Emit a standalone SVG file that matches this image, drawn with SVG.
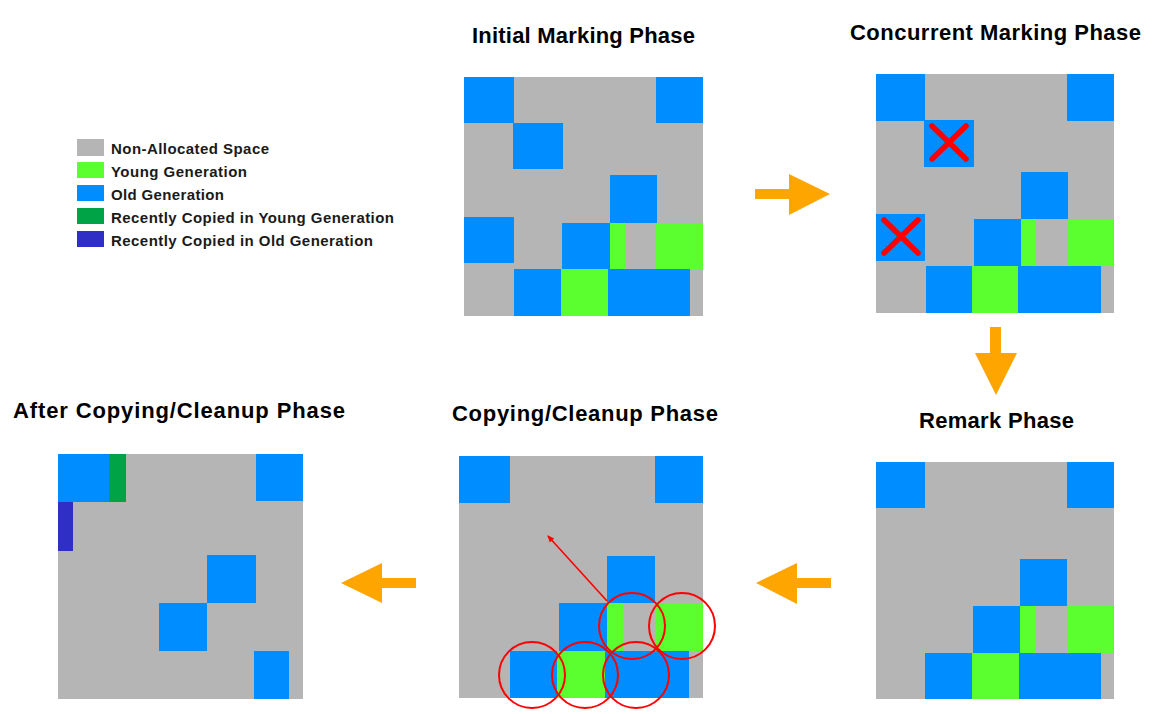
<svg xmlns="http://www.w3.org/2000/svg" width="1168" height="714" viewBox="0 0 1168 714">
<defs>
<style>
.bg{fill:#B5B5B5}
.o{fill:#008DFF}
.y{fill:#5BFF2F}
.dg{fill:#00A447}
.pu{fill:#2F2FC6}
.x{stroke:#FF0000;stroke-width:5.5;stroke-linecap:round;fill:none}
.c{stroke:#FF0000;stroke-width:2;fill:none}
.t{font-family:"Liberation Sans",Arial,sans-serif;font-weight:bold;font-size:22px;fill:#000}
.lg{font-family:"Liberation Sans",Arial,sans-serif;font-weight:bold;font-size:15px;fill:#1a1a1a}
.arr{fill:#FFA500}
</style>
<marker id="rh" markerWidth="8" markerHeight="8" refX="6" refY="4" orient="auto" markerUnits="userSpaceOnUse">
<path d="M0,1 L7,4 L0,7 Z" fill="#FF0000"/>
</marker>
</defs>
<rect width="1168" height="714" fill="#FFFFFF"/>

<g id="legend">
<rect class="bg" x="77" y="139" width="27" height="17"/>
<rect class="y" x="77" y="162" width="27" height="16"/>
<rect class="o" x="77" y="185" width="27" height="16"/>
<rect class="dg" x="77" y="208" width="27" height="16"/>
<rect class="pu" x="77" y="231" width="27" height="16"/>
<text class="lg" x="111" y="154" textLength="158">Non-Allocated Space</text>
<text class="lg" x="111" y="177" textLength="136">Young Generation</text>
<text class="lg" x="111" y="200" textLength="113">Old Generation</text>
<text class="lg" x="111" y="223" textLength="283">Recently Copied in Young Generation</text>
<text class="lg" x="111" y="246" textLength="262">Recently Copied in Old Generation</text>
</g>

<g id="initial-marking">
<text class="t" x="472" y="43" textLength="223">Initial Marking Phase</text>
<rect class="bg" x="464" y="77" width="239" height="239"/>
<rect class="o" x="464" y="77" width="50" height="46"/>
<rect class="o" x="656" y="77" width="47" height="46"/>
<rect class="o" x="513" y="123" width="50" height="46"/>
<rect class="o" x="610" y="175" width="47" height="48"/>
<rect class="o" x="464" y="217" width="50" height="46"/>
<rect class="o" x="562" y="223" width="48" height="46"/>
<rect class="y" x="610" y="223" width="15" height="46"/>
<rect class="y" x="656" y="223" width="47" height="46"/>
<rect class="o" x="514" y="269" width="47" height="47"/>
<rect class="y" x="561" y="269" width="47" height="47"/>
<rect class="o" x="608" y="269" width="82" height="47"/>
</g>

<g id="concurrent-marking">
<text class="t" x="850" y="40" textLength="291">Concurrent Marking Phase</text>
<rect class="bg" x="876" y="74" width="238" height="239"/>
<rect class="o" x="876" y="74" width="49" height="47"/>
<rect class="o" x="1067" y="74" width="47" height="47"/>
<rect class="o" x="924" y="120" width="50" height="47"/>
<rect class="o" x="1021" y="172" width="47" height="47"/>
<rect class="o" x="876" y="214" width="49" height="47"/>
<rect class="o" x="974" y="219" width="47" height="47"/>
<rect class="y" x="1021" y="219" width="15" height="47"/>
<rect class="y" x="1068" y="219" width="46" height="47"/>
<rect class="o" x="926" y="266" width="46" height="47"/>
<rect class="y" x="972" y="266" width="46" height="47"/>
<rect class="o" x="1018" y="266" width="83" height="47"/>
<path class="x" d="M932,126 L966,159 M966,126 L932,159"/>
<path class="x" d="M884,220 L918,253 M918,220 L884,253"/>
</g>

<g id="remark">
<text class="t" x="919" y="428" textLength="155">Remark Phase</text>
<rect class="bg" x="876" y="462" width="238" height="237"/>
<rect class="o" x="876" y="462" width="49" height="46"/>
<rect class="o" x="1067" y="462" width="47" height="46"/>
<rect class="o" x="1020" y="559" width="47" height="47"/>
<rect class="o" x="973" y="606" width="47" height="47"/>
<rect class="y" x="1020" y="606" width="16" height="47"/>
<rect class="y" x="1067" y="606" width="47" height="47"/>
<rect class="o" x="925" y="653" width="47" height="46"/>
<rect class="y" x="972" y="653" width="47" height="46"/>
<rect class="o" x="1019" y="653" width="82" height="46"/>
</g>

<g id="copying-cleanup">
<text class="t" x="452" y="421" textLength="266">Copying/Cleanup Phase</text>
<rect class="bg" x="459" y="456" width="244" height="242"/>
<rect class="o" x="459" y="456" width="51" height="47"/>
<rect class="o" x="655" y="456" width="48" height="47"/>
<rect class="o" x="607" y="556" width="48" height="47"/>
<rect class="o" x="559" y="603" width="48" height="48"/>
<rect class="y" x="607" y="603" width="16" height="48"/>
<rect class="y" x="655" y="603" width="48" height="48"/>
<rect class="o" x="510" y="651" width="47" height="47"/>
<rect class="y" x="557" y="651" width="48" height="47"/>
<rect class="o" x="605" y="651" width="84" height="47"/>
<line x1="607" y1="601" x2="548" y2="536" stroke="#FF0000" stroke-width="1.6" marker-end="url(#rh)"/>
<circle class="c" cx="632" cy="626" r="33"/>
<circle class="c" cx="682" cy="626" r="33"/>
<circle class="c" cx="532" cy="675" r="33"/>
<circle class="c" cx="585" cy="675" r="33"/>
<circle class="c" cx="636" cy="675" r="33"/>
</g>

<g id="after-copying">
<text class="t" x="13" y="418" textLength="332">After Copying/Cleanup Phase</text>
<rect class="bg" x="58" y="454" width="245" height="245"/>
<rect class="o" x="58" y="454" width="51" height="48"/>
<rect class="dg" x="109" y="454" width="17" height="48"/>
<rect class="o" x="256" y="454" width="47" height="47"/>
<rect class="pu" x="58" y="502" width="15" height="49"/>
<rect class="o" x="207" y="555" width="49" height="48"/>
<rect class="o" x="159" y="603" width="48" height="48"/>
<rect class="o" x="254" y="651" width="35" height="48"/>
</g>

<g id="connectors">
<polygon class="arr" points="755,189 789,189 789,174 830,194 789,215 789,199 755,199"/>
<polygon class="arr" points="990,327 1001,327 1001,353 1017,353 996,395 975,353 990,353"/>
<polygon class="arr" points="831,578 797,578 797,563 756,583 797,604 797,588 831,588"/>
<polygon class="arr" points="416,578 382,578 382,563 341,583 382,603 382,588 416,588"/>
</g>
</svg>
